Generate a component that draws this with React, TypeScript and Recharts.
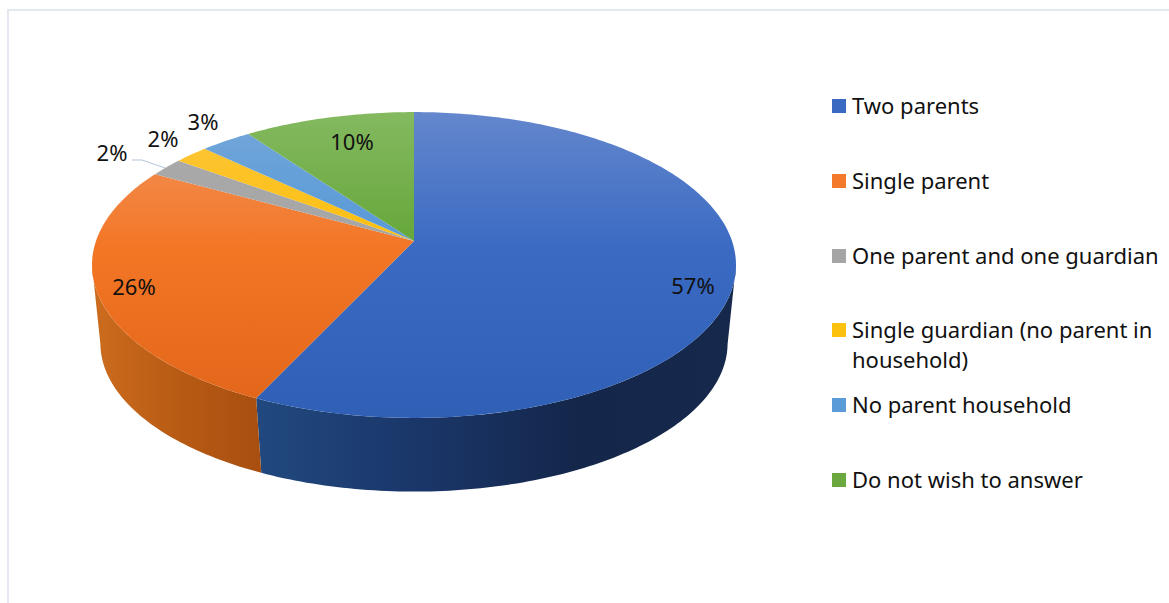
import React from 'react';
import { PieChart, Pie, Legend } from 'recharts';

const categories = [
  'Two parents',
  'Single parent',
  'One parent and one guardian',
  'Single guardian (no parent in household)',
  'No parent household',
  'Do not wish to answer',
];
const shares = [57, 26, 2, 2, 3, 10];

const swatchColors = ['#3a69c2', '#f37a2a', '#a5a5a5', '#fcc00e', '#5b9bd8', '#6aa83f'];
const topStops = [
  ['#6487cd', '#3a6ac2', '#2f60b6'],
  ['#f09560', '#f37625', '#e1651a'],
  ['#ababab', '#a5a5a5', '#a0a0a0'],
  ['#fcc63f', '#fcbf0a', '#f7b900'],
  ['#74a7d9', '#5598d8', '#4e90d0'],
  ['#84b960', '#64a638', '#5da030'],
];
// one gradient per slice wall, x1 and x2 in chart pixels
const wallStops: Record<number, [number, number, string[]]> = {
  0: [258, 736, ['#21497f', '#1a3669', '#14274b', '#16294c']],
  1: [92, 260, ['#cc6c1e', '#b85b14', '#a84f10']],
};

const labelCenters = [
  [693, 285],
  [134, 286],
  [112, 152],
  [163, 138],
  [203, 121],
  [352, 141],
];
const leaderLine = 'M132 160 L142 160 L165 168';

const FONT = '"Noto Sans", sans-serif';
const CHART_W = 1169;
const CHART_H = 603;
const tableRows = categories.map((name, idx) => ({ name, value: shares[idx], idx, fill: swatchColors[idx] }));

// perspective of the disc: top face and the smaller bottom face
const TOP_FACE = { drop: 0, xScale: 1, yScale: 0.469, k: 0.157 };
const BOTTOM_FACE = { drop: 80, xScale: 0.975, yScale: 0.456, k: 0.15 };
const WALL_FROM = 99;
const WALL_TO = 261;

type Face = typeof TOP_FACE;

function project(theta: number, cx: number, cy: number, radius: number, face: Face) {
  const rad = (theta * Math.PI) / 180;
  const u = Math.sin(rad);
  const v = -Math.cos(rad);
  const den = 1 - face.k * v;
  return [cx + (radius * face.xScale * u) / den, cy + face.drop + (radius * face.yScale * v) / den];
}

function arcPoints(from: number, to: number, cx: number, cy: number, radius: number, face: Face) {
  const pts: number[][] = [];
  const steps = Math.max(2, Math.ceil(to - from));
  for (let i = 0; i <= steps; i++) {
    pts.push(project(from + ((to - from) * i) / steps, cx, cy, radius, face));
  }
  return pts;
}

const toPath = (pts: number[][]) => pts.map((p, i) => `${i ? 'L' : 'M'}${p[0].toFixed(2)} ${p[1].toFixed(2)}`).join(' ');

function DiscSlice(props: any) {
  const { cx, cy, outerRadius, startAngle, endAngle } = props;
  const idx = props.idx ?? props.payload?.idx;
  // recharts angles run counter-clockwise from 3 o'clock
  const from = 90 - startAngle;
  const to = 90 - endAngle;
  const top = arcPoints(from, to, cx, cy, outerRadius, TOP_FACE);
  const wallFrom = Math.max(from, WALL_FROM);
  const wallTo = Math.min(to, WALL_TO);
  let wall = null;
  if (wallTo > wallFrom) {
    const upper = arcPoints(wallFrom, wallTo, cx, cy, outerRadius, TOP_FACE);
    const lower = arcPoints(wallFrom, wallTo, cx, cy, outerRadius, BOTTOM_FACE).reverse();
    wall = <path d={`${toPath(upper.concat(lower))} Z`} fill={`url(#wall-${idx})`} />;
  }
  return (
    <g>
      {wall}
      <path d={`M${cx} ${cy} ${toPath(top).replace('M', 'L')} Z`} fill={`url(#top-${idx})`} />
    </g>
  );
}

function renderLabel(props: any) {
  const idx = props.idx ?? props.payload?.idx ?? props.index;
  const [x, y] = labelCenters[idx];
  return (
    <g key={idx}>
      {idx === 2 && <path d={leaderLine} fill="none" stroke="#b4c5dc" strokeWidth={1} />}
      <text x={x} y={y} textAnchor="middle" dominantBaseline="central" fontFamily={FONT} fontSize={22} fill="#111">
        {`${shares[idx]}%`}
      </text>
    </g>
  );
}

function LegendList() {
  return (
    <div style={{ position: 'relative', width: 337, height: 420, fontFamily: FONT, fontSize: 22, color: '#111', lineHeight: '30px' }}>
      {categories.map((name, i) => (
        <div key={name} style={{ position: 'absolute', left: 0, top: i * 74.8, width: 337 }}>
          <span style={{ position: 'absolute', left: 0, top: 9, width: 14, height: 14, background: swatchColors[i] }} />
          <div style={{ marginLeft: 20, width: 312 }}>{name}</div>
        </div>
      ))}
    </div>
  );
}

export default function App() {
  return (
    <div style={{ position: 'absolute', left: 0, top: 0, width: CHART_W, height: CHART_H, background: '#fff', overflow: 'hidden' }}>
      <div style={{ position: 'absolute', left: 7, top: 9, right: 0, bottom: 0, borderLeft: '2px solid #e4e8f0', borderTop: '2px solid #e4e8f0' }} />
      <PieChart width={CHART_W} height={CHART_H} margin={{ top: 0, right: 0, bottom: 0, left: 0 }}>
        <defs>
          {topStops.map((stops, i) => (
            <linearGradient key={i} id={`top-${i}`} gradientUnits="userSpaceOnUse" x1="0" y1="112" x2="0" y2="418">
              <stop offset="0" stopColor={stops[0]} />
              <stop offset="0.45" stopColor={stops[1]} />
              <stop offset="1" stopColor={stops[2]} />
            </linearGradient>
          ))}
          {Object.entries(wallStops).map(([key, [x1, x2, stops]]) => (
            <linearGradient key={key} id={`wall-${key}`} gradientUnits="userSpaceOnUse" x1={x1} y1="0" x2={x2} y2="0">
              {stops.map((c, j) => (
                <stop key={j} offset={j / (stops.length - 1)} stopColor={c} />
              ))}
            </linearGradient>
          ))}
        </defs>
        <Pie
          data={tableRows}
          dataKey="value"
          nameKey="name"
          cx={414}
          cy={241}
          innerRadius={0}
          outerRadius={318}
          startAngle={90}
          endAngle={-270}
          stroke="none"
          shape={DiscSlice}
          label={renderLabel}
          labelLine={false}
          isAnimationActive={false}
        />
        <Legend
          content={<LegendList />}
          wrapperStyle={{ position: 'absolute', left: 832, top: 90, width: 337, bottom: 'auto' }}
        />
      </PieChart>
    </div>
  );
}
